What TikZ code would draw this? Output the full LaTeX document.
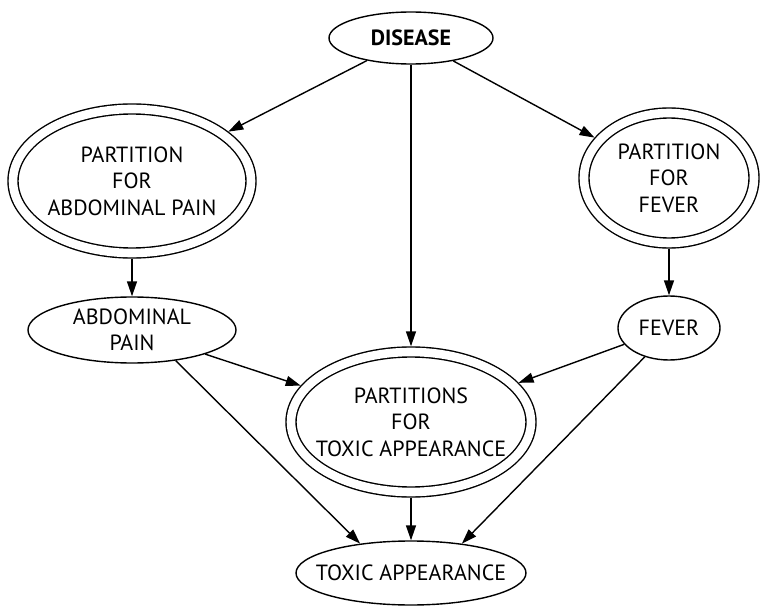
\documentclass[tikz,border=0pt]{standalone}
\usepackage{fontspec}
\setmainfont{PT Sans}
\usetikzlibrary{arrows.meta,shapes.geometric}
\tikzset{varnode/.style={ellipse, draw, line width=1.4pt, align=center, font=\fontsize{22}{26.5}\selectfont, inner xsep=-30pt, inner ysep=-20pt}}
\tikzset{partnode/.style={varnode, double, double distance=8.6pt, outer sep=5.7pt}}
\tikzstyle{arrow} = [line width=1.4pt, -{Triangle[length=15pt, width=10pt]}]

\begin{document}
\begin{tikzpicture}[x=1pt, y=-1pt]
	\useasboundingbox (0,0) rectangle (761,607);
	% Nodes
		\node (disease) [varnode, minimum width=164pt, minimum height=52pt, font=\fontsize{22}{26.5}\selectfont\bfseries] at (411,38) {DISEASE};
		\node (pabd) [partnode, minimum width=238pt, minimum height=144pt] at (132,181) {PARTITION\\FOR\\ABDOMINAL PAIN};
		\node (pfever) [partnode, minimum width=170pt, minimum height=130pt] at (669,178) {PARTITION\\FOR\\FEVER};
		\node (abdpain) [varnode, minimum width=208pt, minimum height=66pt] at (132,330) {ABDOMINAL\\PAIN};
		\node (fever) [varnode, minimum width=102pt, minimum height=64pt] at (669,328) {FEVER};
		\node (ptoxic) [partnode, minimum width=240pt, minimum height=140pt] at (411,422) {PARTITIONS\\FOR\\TOXIC APPEARANCE};
		\node (toxic) [varnode, minimum width=230pt, minimum height=64pt] at (411,573) {TOXIC APPEARANCE};

		% Connectors
		\draw [arrow] (disease) -- (pabd);
		\draw [arrow] (disease) -- (pfever);
		\draw [arrow] (disease) -- (ptoxic);
		\draw [arrow] (pabd) -- (abdpain);
		\draw [arrow] (pfever) -- (fever);
		\draw [arrow] (abdpain) -- (ptoxic);
		\draw [arrow] (abdpain.-35) -- (toxic.150);
		\draw [arrow] (fever) -- (ptoxic);
		\draw [arrow] (fever.230) -- (toxic.30);
		\draw [arrow] (ptoxic) -- (toxic);
\end{tikzpicture}
\end{document}
